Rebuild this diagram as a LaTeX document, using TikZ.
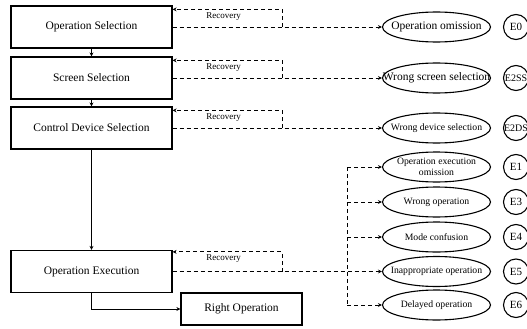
\documentclass[tikz,border=0pt]{standalone}
\usepackage{fontspec}
\setmainfont{Liberation Serif}
\usetikzlibrary{arrows.meta,shapes.geometric}

\newcommand{\nw}[1]{\makebox[0pt]{#1}}

\begin{document}
\begin{tikzpicture}[x=1pt,y=-1pt,>={Stealth[length=4pt,width=4pt]},
	stage/.style={draw, line width=1.2pt, minimum width=161pt, minimum height=42pt, inner sep=0pt, font=\fontsize{11.5}{13}\selectfont},
	fault/.style={draw, ellipse, line width=1.1pt, minimum width=108pt, minimum height=30pt, inner sep=0pt, font=\fontsize{9.7}{11}\selectfont},
	code/.style={draw, circle, line width=1.1pt, minimum size=25pt, inner sep=0pt, font=\fontsize{11}{12}\selectfont},
	flow/.style={->, line width=1pt},
	dsh/.style={line width=0.9pt, dash pattern=on 4pt off 3pt},
	rec/.style={anchor=north, inner sep=0pt, font=\fontsize{9}{10}\selectfont}]
		\useasboundingbox (0,0) rectangle (527,329);
		% stages
		\node[stage] (opsel) at (91.5,27) {Operation Selection};
		\node[stage] (scrsel) at (91.5,78) {Screen Selection};
		\node[stage] (devsel) at (91.5,128) {Control Device Selection};
		\node[stage] (opexe) at (91.5,271.5) {Operation Execution};
		\node[stage, minimum width=121pt, minimum height=32pt] (rightop) at (241.5,309) {Right Operation};
		\draw[flow] (opsel) -- (scrsel);
		\draw[flow] (scrsel) -- (devsel);
		\draw[flow] (devsel) -- (opexe);
		\draw[flow] (opexe.south) |- (rightop.west);
		% errors
		\node[fault, font=\fontsize{11.5}{13}\selectfont] (eomit) at (436.5,27) {\nw{Operation omission}};
		\node[fault, font=\fontsize{11.5}{13}\selectfont] (escreen) at (436.5,78) {\nw{Wrong screen selection}};
		\node[fault] (edevice) at (436.5,128) {\nw{Wrong device selection}};
		\node[fault] (eexomit) at (436.5,167) {\nw{\shortstack{Operation execution\\omission}}};
		\node[fault] (ewrongop) at (436.5,202) {\nw{Wrong operation}};
		\node[fault] (emode) at (436.5,237) {\nw{Mode confusion}};
		\node[fault] (einapp) at (436.5,271.5) {\nw{Inappropriate operation}};
		\node[fault] (edelay) at (436.5,305) {\nw{Delayed operation}};
		\node[code] (c0) at (516,27) {\nw{E0}};
		\node[code] (c2ss) at (516,78) {\nw{\fontsize{10}{11}\selectfont E2SS}};
		\node[code] (c2ds) at (516,128) {\nw{\fontsize{10}{11}\selectfont E2DS}};
		\node[code] (c1) at (516,167) {\nw{E1}};
		\node[code] (c3) at (516,202) {\nw{E3}};
		\node[code] (c4) at (516,237) {\nw{E4}};
		\node[code] (c5) at (516,271.5) {\nw{E5}};
		\node[code] (c6) at (516,305) {\nw{E6}};
		% error paths and recovery
		\coordinate (r1) at (282,27);
		\coordinate (r2) at (282,78);
		\coordinate (r3) at (282,128);
		\coordinate (r4) at (282,271.5);
		\draw[dsh,->] (opsel.east) -- (eomit.west);
		\draw[dsh,->] (scrsel.east) -- (escreen.west);
		\draw[dsh,->] (devsel.east) -- (edevice.west);
		\draw[dsh,->] (opexe.east) -- (einapp.west);
		\draw[dsh,->] (r1) |- ([yshift=-4pt]opsel.north east);
		\draw[dsh,->] (r2) |- ([yshift=-4pt]scrsel.north east);
		\draw[dsh,->] (r3) |- ([yshift=-4pt]devsel.north east);
		\draw[dsh,->] (r4) |- ([yshift=-2pt]opexe.north east);
		\node[rec] (rc1) at ([xshift=51pt,yshift=-7pt]opsel.north east) {Recovery};
		\node[rec] (rc2) at ([xshift=51pt,yshift=-7pt]scrsel.north east) {Recovery};
		\node[rec] (rc3) at ([xshift=51pt,yshift=-7pt]devsel.north east) {Recovery};
		\node[rec] (rc4) at ([xshift=51pt,yshift=-5pt]opexe.north east) {Recovery};
		% execution fork
		\coordinate (fork) at (347,271.5);
		\draw[dsh] (fork |- eexomit) -- (fork |- edelay);
		\draw[dsh,->] (fork |- eexomit) -- (eexomit.west);
		\draw[dsh,->] (fork |- ewrongop) -- (ewrongop.west);
		\draw[dsh,->] (fork |- emode) -- (emode.west);
		\draw[dsh,->] (fork |- edelay) -- (edelay.west);
	\end{tikzpicture}
\end{document}
